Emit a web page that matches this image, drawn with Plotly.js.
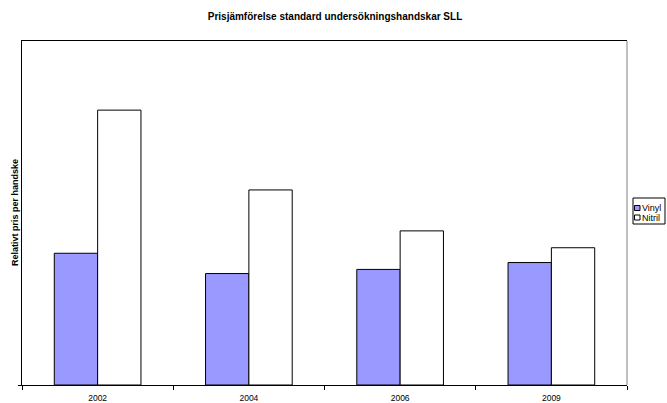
<!DOCTYPE html>
<html>
<head>
<meta charset="utf-8">
<script src="https://cdn.plot.ly/plotly-3.0.1.min.js"></script>
<style>
html,body{margin:0;padding:0;background:#fff;}
#chart{width:667px;height:403px;}
</style>
</head>
<body>
<div id="chart"></div>
<script>
var years = ['2002', '2004', '2006', '2009'];
var seriesNames = ['Vinyl', 'Nitril'];
var vinyl = [0.383, 0.324, 0.336, 0.356];
var nitril = [0.799, 0.567, 0.448, 0.399];
var chartTitle = 'Prisjämförelse standard undersökningshandskar SLL';
var yTitle = 'Relativt pris per handske';

var FONT = 'Liberation Sans, Arial, sans-serif';
var plotL = 22, plotR = 627, plotT = 41, plotB = 385;
function px(x){ return (x - plotL) / (plotR - plotL); }
function py(y){ return (plotB - y) / (plotB - plotT); }

var traces = [
  {type:'bar', name: seriesNames[0], x: years, y: vinyl,
   marker:{color:'#9999FF', line:{color:'#000', width:1}}, showlegend:false, hoverinfo:'none'},
  {type:'bar', name: seriesNames[1], x: years, y: nitril,
   marker:{color:'#FFFFFF', line:{color:'#000', width:1}}, showlegend:false, hoverinfo:'none'}
];

var swatchColors = ['#9999FF', '#FFFFFF'];
var rowY = [208, 217.5];
var shapes = [
  {type:'line', xref:'paper', yref:'paper', x0:1, x1:1, y0:0, y1:1, line:{color:'#808080', width:1}},
  {type:'rect', xref:'paper', yref:'paper', x0:px(633), x1:px(665), y0:py(224), y1:py(198), line:{color:'#000', width:1}, fillcolor:'#fff'}
];
var annotations = [
  {xref:'paper', yref:'paper', x:px(15), y:0.5, xanchor:'center', yanchor:'middle', textangle:-90, text:yTitle, showarrow:false, borderpad:0,
   font:{family:FONT, size:9, weight:'bold', color:'#000'}}
];
seriesNames.forEach(function(n, i){
  shapes.push({type:'rect', xref:'paper', yref:'paper', x0:px(634.5), x1:px(640), y0:py(rowY[i]+2.5), y1:py(rowY[i]-2.5), line:{color:'#000', width:1}, fillcolor:swatchColors[i]});
  annotations.push({xref:'paper', yref:'paper', x:px(640.7), y:py(rowY[i]), xanchor:'left', yanchor:'middle', text:n, showarrow:false, borderpad:0, font:{family:FONT, size:9, color:'#000'}});
});

var layout = {
  width:667, height:403,
  margin:{l:plotL, r:667-plotR, t:plotT, b:403-plotB, pad:0},
  paper_bgcolor:'#fff', plot_bgcolor:'#fff',
  barmode:'group', bargap:0.427, bargroupgap:0,
  showlegend:false,
  title:{text:chartTitle, x:335/667, xanchor:'center', y:1-16/403, yanchor:'middle',
         font:{family:FONT, size:10, weight:'bold', color:'#000'}},
  xaxis:{type:'category', showline:true, linecolor:'#000', linewidth:1, mirror:true, automargin:false,
         ticks:'outside', tickson:'boundaries', ticklen:4, tickcolor:'#000', tickwidth:1, ticklabelstandoff:5,
         showgrid:false, zeroline:false, tickfont:{family:FONT, size:8.5, color:'#000'}, fixedrange:true},
  yaxis:{range:[0,1], showline:true, linecolor:'#000', linewidth:1, automargin:false,
         ticks:'outside', tickvals:[0], ticklen:3, tickcolor:'#000', showticklabels:false,
         showgrid:false, zeroline:false, fixedrange:true},
  shapes:shapes,
  annotations:annotations
};

Plotly.newPlot('chart', traces, layout, {staticPlot:true, displayModeBar:false});
</script>
</body>
</html>
